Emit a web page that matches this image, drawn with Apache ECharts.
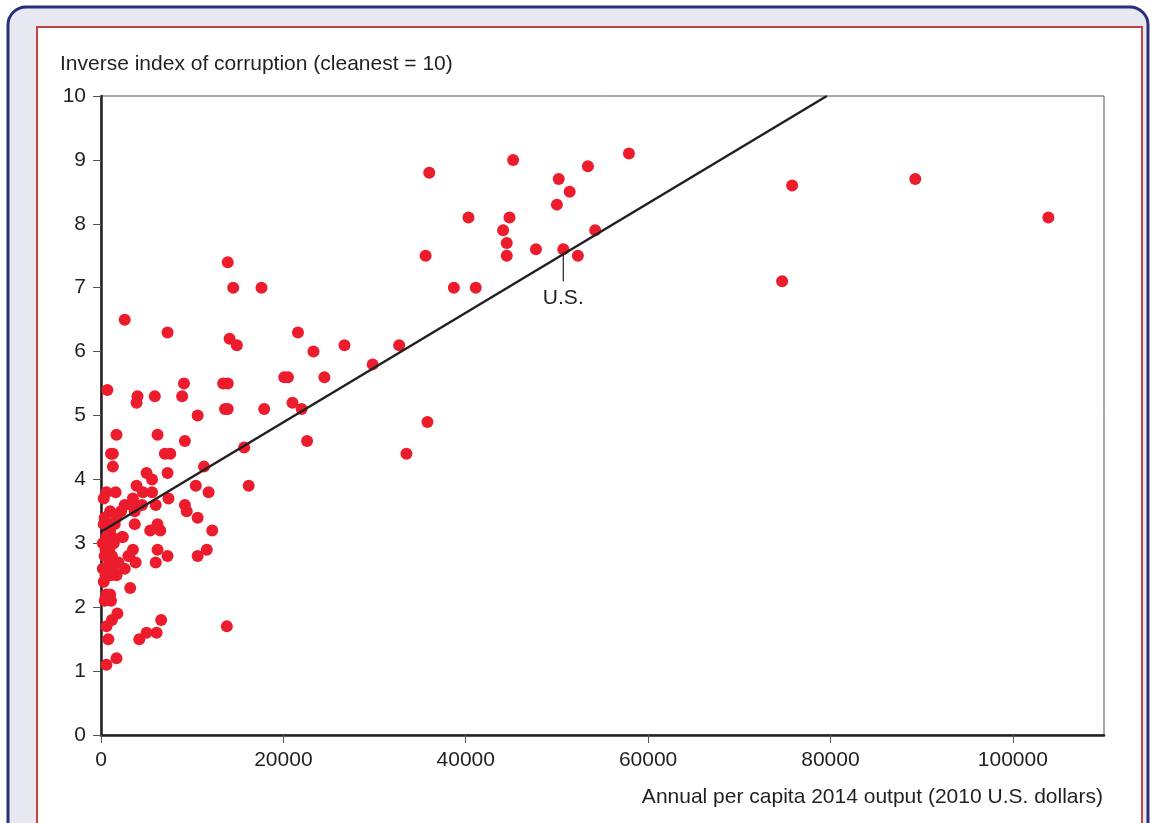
<!DOCTYPE html>
<html><head><meta charset="utf-8">
<script src="https://cdn.jsdelivr.net/npm/echarts@6/dist/echarts.min.js"></script>
<style>html,body{margin:0;padding:0;background:#fff}#c{width:1151px;height:823px}</style>
</head><body><div id="c"></div>
<script>
// Annual per capita 2014 output (2010 US$)
const gdp = [
103900,89300,75800,74700,57900,53400,50200,51400,50000,54200,50700,52300,47700,45200,44800,40300,44100,44500,44500,41100,38700,36000,35600,35800,33500,32700,29800,26700,24500,23300,21600,20100,20500,21000,22000,22600,17900,17600,16200,15700,13900,14500,14100,14900,13400,13900,13600,13900,10600,8900,9100,5900,4000,3900,700,2600,7300,1700,6200,9200,13800,
1100,1300,7000,7600,1300,5000,5600,7300,11300,10400,11800,3900,7400,600,1600,300,3500,4600,5600,6000,2600,3400,4500,9200,9400,10600,1000,2200,400,1700,3700,12200,5400,6500,6200,2400,3800,3700,1500,1000,600,2300,1400,3500,6200,11600,10600,7300,3100,3000,3800,6000,1900,2600,1700,300,1100,3200,600,1000,400,1100,1800,1200,600,6600,800,4200,5000,6100,1700,600,400,1200,800,1500,
200,500,300,800,900,1200,200,500,900,1300
];
// Inverse index of corruption
const cleanIndex = [
8.1,8.7,8.6,7.1,9.1,8.9,8.7,8.5,8.3,7.9,7.6,7.5,7.6,9.0,8.1,8.1,7.9,7.7,7.5,7.0,7.0,8.8,7.5,4.9,4.4,6.1,5.8,6.1,5.6,6.0,6.3,5.6,5.6,5.2,5.1,4.6,5.1,7.0,3.9,4.5,7.4,7.0,6.2,6.1,5.5,5.5,5.1,5.1,5.0,5.3,5.5,5.3,5.3,5.2,5.4,6.5,6.3,4.7,4.7,4.6,1.7,
4.4,4.4,4.4,4.4,4.2,4.1,4.0,4.1,4.2,3.9,3.8,3.9,3.7,3.8,3.8,3.7,3.7,3.8,3.8,3.6,3.6,3.6,3.6,3.6,3.5,3.4,3.5,3.5,3.4,3.4,3.3,3.2,3.2,3.2,3.3,3.1,3.6,3.5,3.3,3.2,3.1,3.1,3.0,2.9,2.9,2.9,2.8,2.8,2.8,2.8,2.7,2.7,2.7,2.6,2.5,2.4,2.5,2.3,2.2,2.2,2.1,2.1,1.9,1.8,1.7,1.8,1.5,1.5,1.6,1.6,1.2,1.1,2.8,2.8,2.65,2.7,
3.0,2.9,3.3,3.0,2.9,3.1,2.6,2.5,3.3,2.6
];
const usLeader = [[50700, 7.52], [50700, 7.1]];
const usLabelAt = [[50700, 7.1]];
const usLabel = 'U.S.';
const fitLine = [[0, 3.18], [79600, 10]];
const xTicks = [0, 20000, 40000, 60000, 80000, 100000];
const yTicks = [0,1,2,3,4,5,6,7,8,9,10];
const yTitle = 'Inverse index of corruption (cleanest = 10)';
const xTitle = 'Annual per capita 2014 output (2010 U.S. dollars)';

const pts = gdp.map((g, i) => [g, cleanIndex[i]]);
const FONT = 'Liberation Sans';
const INK = '#231f20';
const chart = echarts.init(document.getElementById('c'), null, {renderer: 'canvas'});
chart.setOption({
  animation: false,
  backgroundColor: '#ffffff',
  graphic: [
    {type: 'rect', z: -10, silent: true, shape: {x: 8, y: 7, width: 1140, height: 860, r: 18},
     style: {fill: '#e8e8f2', stroke: '#2b2e78', lineWidth: 3}},
    {type: 'rect', z: -9, silent: true, shape: {x: 37, y: 27, width: 1105, height: 840},
     style: {fill: '#ffffff', stroke: '#c8423d', lineWidth: 2}}
  ],
  title: [
    {text: yTitle, left: 60, top: 54, padding: 0,
     textStyle: {fontFamily: FONT, fontSize: 21, fontWeight: 'normal', color: INK}},
    {text: xTitle, right: 48, top: 787, padding: 0,
     textStyle: {fontFamily: FONT, fontSize: 21, fontWeight: 'normal', color: INK}}
  ],
  grid: {left: 101, top: 96, width: 1003, height: 639, show: true, borderColor: '#555', borderWidth: 1, backgroundColor: 'transparent'},
  xAxis: {
    type: 'value', min: 0, max: 110000, interval: 20000,
    splitLine: {show: false},
    axisLine: {show: true, onZero: false, lineStyle: {color: INK, width: 2.5}},
    axisTick: {show: true, length: 8, customValues: xTicks, lineStyle: {color: '#555', width: 1}},
    axisLabel: {customValues: xTicks, formatter: v => String(v), fontFamily: FONT, fontSize: 21, color: INK, margin: 15}
  },
  yAxis: {
    type: 'value', min: 0, max: 10, interval: 1,
    splitLine: {show: false},
    axisLine: {show: true, onZero: false, lineStyle: {color: INK, width: 2.5}},
    axisTick: {show: true, length: 8, customValues: yTicks, lineStyle: {color: '#555', width: 1}},
    axisLabel: {customValues: yTicks, formatter: v => String(v), fontFamily: FONT, fontSize: 21, color: INK, margin: 15}
  },
  series: [
    {type: 'scatter', data: pts, symbolSize: 12, itemStyle: {color: '#ec1c2d', opacity: 1}, z: 3},
    {type: 'line', data: fitLine, showSymbol: false, symbol: 'none', lineStyle: {color: INK, width: 2.5}, z: 4},
    {type: 'line', data: usLeader, showSymbol: false, symbol: 'none', lineStyle: {color: INK, width: 1.2}, z: 4},
    {type: 'scatter', data: usLabelAt, symbolSize: 0, z: 5,
     label: {show: true, formatter: usLabel, position: 'bottom', distance: 6, fontFamily: FONT, fontSize: 21, color: INK, opacity: 1}}
  ]
});
</script></body></html>
